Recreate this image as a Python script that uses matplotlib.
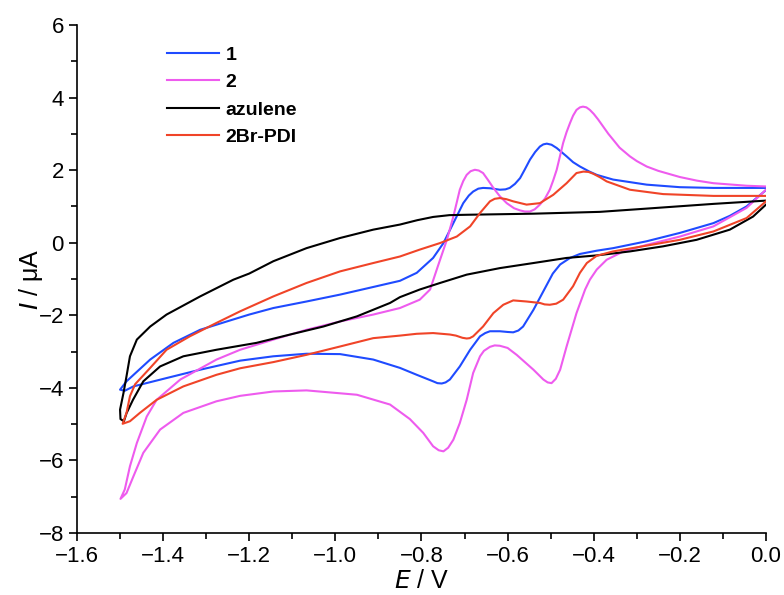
import matplotlib.pyplot as plt
from matplotlib.ticker import MultipleLocator

plt.rcParams['font.family'] = ['Liberation Sans', 'DejaVu Sans']

# ====================================
# CV data (E in V, I in uA)
# each loop: forward sweep 0 -> -1.5 V, then back to 0 V
# ====================================
E_1 = [0.0, -0.045, -0.084, -0.122, -0.2, -0.277, -0.355, -0.393, -0.432, -0.455,
       -0.478, -0.495, -0.513, -0.54, -0.564, -0.575, -0.587, -0.6, -0.618, -0.641,
       -0.652, -0.664, -0.687, -0.711, -0.734, -0.744, -0.753, -0.763, -0.773, -0.811,
       -0.85, -0.912, -0.989, -1.067, -1.144, -1.221, -1.314, -1.392, -1.469, -1.489,
       -1.5,
       -1.485, -1.43, -1.376, -1.314, -1.252, -1.2, -1.144, -1.067, -0.989, -0.912,
       -0.85, -0.811, -0.773, -0.749, -0.726, -0.703, -0.69, -0.68, -0.668, -0.657,
       -0.64, -0.618, -0.605, -0.595, -0.583, -0.571, -0.56, -0.548, -0.536, -0.525,
       -0.517, -0.509, -0.498, -0.486, -0.475, -0.463, -0.448, -0.432, -0.41, -0.393,
       -0.355, -0.277, -0.2, -0.122, 0.0]
I_1 = [1.45, 1.0, 0.74, 0.54, 0.27, 0.04, -0.15, -0.22, -0.31, -0.42,
       -0.6, -0.85, -1.25, -1.85, -2.31, -2.42, -2.47, -2.46, -2.44, -2.44,
       -2.49, -2.58, -2.95, -3.41, -3.77, -3.85, -3.88, -3.87, -3.82, -3.64,
       -3.45, -3.22, -3.07, -3.06, -3.13, -3.25, -3.5, -3.73, -3.96, -4.08,
       -4.05,
       -3.82, -3.22, -2.76, -2.40, -2.17, -1.98, -1.80, -1.62, -1.43, -1.22,
       -1.05, -0.83, -0.42, -0.01, 0.54, 1.09, 1.30, 1.41, 1.49, 1.51,
       1.50, 1.46, 1.47, 1.51, 1.62, 1.78, 2.02, 2.29, 2.50, 2.65,
       2.71, 2.73, 2.70, 2.61, 2.50, 2.38, 2.22, 2.10, 1.96, 1.87,
       1.74, 1.60, 1.53, 1.51, 1.51]

E_2 = [0.0, -0.045, -0.122, -0.2, -0.277, -0.331, -0.37, -0.393, -0.409, -0.42,
       -0.44, -0.463, -0.478, -0.488, -0.498, -0.507, -0.517, -0.54, -0.579, -0.6,
       -0.618, -0.63, -0.641, -0.655, -0.664, -0.68, -0.695, -0.711, -0.726, -0.738,
       -0.749, -0.76, -0.773, -0.796, -0.827, -0.873, -0.95, -1.067, -1.144, -1.221,
       -1.276, -1.353, -1.407, -1.446, -1.469, -1.485, -1.499,
       -1.489, -1.477, -1.461, -1.438, -1.415, -1.36, -1.276, -1.221, -1.144, -1.067,
       -0.989, -0.912, -0.85, -0.804, -0.78, -0.762, -0.741, -0.726, -0.711, -0.703,
       -0.695, -0.686, -0.676, -0.667, -0.657, -0.645, -0.633, -0.618, -0.602, -0.585,
       -0.571, -0.56, -0.548, -0.537, -0.525, -0.513, -0.502, -0.494, -0.486, -0.471,
       -0.463, -0.455, -0.448, -0.44, -0.432, -0.425, -0.417, -0.409, -0.4, -0.39,
       -0.378, -0.366, -0.355, -0.34, -0.316, -0.3, -0.277, -0.25, -0.2, -0.16,
       -0.122, -0.045, 0.0]
I_2 = [1.46, 0.96, 0.45, 0.17, -0.06, -0.24, -0.47, -0.74, -1.02, -1.29,
       -1.94, -2.86, -3.5, -3.75, -3.87, -3.85, -3.77, -3.5, -3.09, -2.9,
       -2.84, -2.83, -2.87, -2.98, -3.13, -3.59, -4.33, -4.97, -5.43, -5.65,
       -5.75, -5.72, -5.61, -5.24, -4.86, -4.46, -4.19, -4.07, -4.10, -4.22,
       -4.37, -4.69, -5.15, -5.79, -6.44, -6.90, -7.06,
       -6.80, -6.16, -5.52, -4.79, -4.33, -3.77, -3.22, -2.95, -2.67, -2.40,
       -2.17, -1.98, -1.80, -1.57, -1.29, -0.65, 0.08, 0.72, 1.46, 1.70,
       1.87, 1.97, 2.01, 1.99, 1.92, 1.72, 1.51, 1.28, 1.09, 0.95,
       0.89, 0.86, 0.86, 0.92, 1.05, 1.22, 1.46, 1.72, 2.01, 2.75,
       3.05, 3.30, 3.50, 3.66, 3.73, 3.75, 3.73, 3.66, 3.55, 3.40,
       3.20, 3.00, 2.84, 2.62, 2.38, 2.25, 2.10, 1.98, 1.81, 1.71,
       1.64, 1.57, 1.55]

E_azu = [0.0, -0.03, -0.084, -0.161, -0.239, -0.316, -0.393, -0.463, -0.54, -0.618,
         -0.695, -0.757, -0.804, -0.85, -0.873, -0.95, -1.028, -1.105, -1.183, -1.276,
         -1.353, -1.407, -1.446, -1.47, -1.485, -1.491, -1.499,
         -1.5, -1.492, -1.485, -1.477, -1.461, -1.43, -1.392, -1.314, -1.237, -1.2,
         -1.144, -1.067, -0.989, -0.912, -0.85, -0.81, -0.773, -0.735, -0.695, -0.54,
         -0.386, -0.277, -0.122, 0.0]
I_azu = [1.05, 0.72, 0.36, 0.08, -0.10, -0.24, -0.35, -0.42, -0.56, -0.70,
         -0.88, -1.11, -1.29, -1.50, -1.66, -2.03, -2.31, -2.53, -2.76, -2.95,
         -3.13, -3.41, -3.82, -4.33, -4.70, -4.92, -4.86,
         -4.60, -4.14, -3.68, -3.13, -2.67, -2.31, -1.98, -1.48, -1.02, -0.85,
         -0.51, -0.15, 0.13, 0.36, 0.50, 0.62, 0.71, 0.76, 0.77, 0.80,
         0.85, 0.94, 1.07, 1.16]

E_pdi = [0.0, -0.045, -0.122, -0.2, -0.277, -0.355, -0.393, -0.416, -0.432, -0.448,
         -0.471, -0.487, -0.502, -0.514, -0.525, -0.556, -0.587, -0.61, -0.633, -0.657,
         -0.68, -0.688, -0.695, -0.705, -0.72, -0.734, -0.773, -0.811, -0.85, -0.912,
         -0.989, -1.067, -1.144, -1.221, -1.276, -1.353, -1.415, -1.454, -1.477, -1.494,
         -1.485, -1.477, -1.465, -1.43, -1.392, -1.338, -1.276, -1.221, -1.144, -1.067,
         -0.989, -0.912, -0.85, -0.804, -0.757, -0.718, -0.687, -0.664, -0.641, -0.63,
         -0.618, -0.603, -0.587, -0.556, -0.525, -0.494, -0.463, -0.44, -0.424, -0.412,
         -0.401, -0.385, -0.37, -0.316, -0.239, -0.122, 0.0]
I_pdi = [1.14, 0.68, 0.31, 0.08, -0.08, -0.24, -0.36, -0.56, -0.83, -1.20,
         -1.57, -1.68, -1.71, -1.70, -1.66, -1.62, -1.59, -1.71, -1.94, -2.31,
         -2.58, -2.63, -2.64, -2.62, -2.56, -2.53, -2.49, -2.51, -2.56, -2.63,
         -2.86, -3.09, -3.29, -3.46, -3.64, -3.96, -4.33, -4.69, -4.92, -4.99,
         -4.69, -4.23, -3.90, -3.45, -2.95, -2.58, -2.21, -1.89, -1.48, -1.11,
         -0.79, -0.56, -0.38, -0.19, -0.01, 0.17, 0.45, 0.82, 1.14, 1.21,
         1.23, 1.20, 1.14, 1.05, 1.09, 1.32, 1.64, 1.92, 1.96, 1.95,
         1.90, 1.80, 1.69, 1.46, 1.34, 1.29, 1.29]

labels = ["1", "2", "azulene", "2Br-PDI"]
colors = ["#1f4bff", "#ee5bee", "#000000", "#f04428"]

# ====================================
# Plot
# ====================================
fig = plt.figure(figsize=(7.84, 5.95), dpi=100)
ax = fig.add_axes([0.0982, 0.1042, 0.8788, 0.8538])

for E, I, lab, col in zip([E_1, E_2, E_azu, E_pdi], [I_1, I_2, I_azu, I_pdi], labels, colors):
    ax.plot(E, I, color=col, lw=1.5, label=lab)

ax.set_xlim(-1.6, 0.0)
ax.set_ylim(-8, 6)
ax.xaxis.set_major_locator(MultipleLocator(0.2))
ax.xaxis.set_minor_locator(MultipleLocator(0.1))
ax.yaxis.set_major_locator(MultipleLocator(2))
ax.yaxis.set_minor_locator(MultipleLocator(1))
ax.tick_params(which="both", direction="out", width=1.2, labelsize=16)
ax.tick_params(which="major", length=6)
ax.tick_params(which="minor", length=4)

ax.spines["top"].set_visible(False)
ax.spines["right"].set_visible(False)
ax.spines["left"].set_linewidth(1.2)
ax.spines["bottom"].set_linewidth(1.2)

ax.set_xlabel(r"$\it{E}$ / V", fontsize=18, labelpad=1)
ax.set_ylabel(r"$\it{I}$ / μA", fontsize=18)
ax.yaxis.set_label_coords(-0.047, 0.5)

leg = ax.legend(loc="upper left", bbox_to_anchor=(0.13, 0.958), frameon=False,
                handlelength=2.7, handletextpad=0.35, labelspacing=0.5,
                borderpad=0, borderaxespad=0, prop={"weight": "bold", "size": 14})

plt.savefig("out.png", dpi=100)
